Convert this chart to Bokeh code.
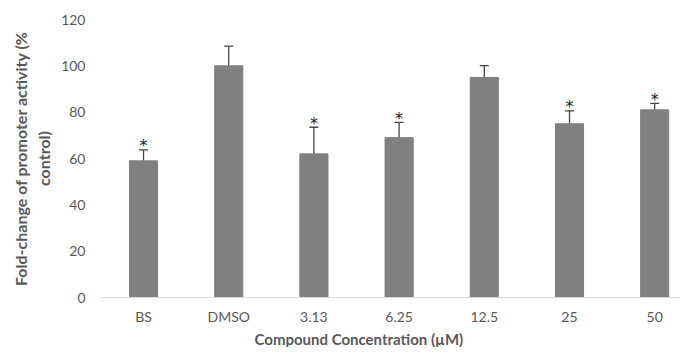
from bokeh.plotting import figure
from bokeh.models import ColumnDataSource, Whisker, TeeHead, FixedTicker, Title
from bokeh.core.properties import value
from bokeh.embed import file_html
from bokeh.resources import INLINE

categories = ["BS", "DMSO", "3.13", "6.25", "12.5", "25", "50"]
means = [59, 100, 62, 69, 95, 75, 81]
errors = [4.7, 8.5, 11.5, 6.6, 5.1, 5.6, 2.8]
significant = [True, False, True, True, False, True, True]
y_ticks = [0, 20, 40, 60, 80, 100, 120]

TXT = "#595959"
FONT = "Lato"

xs = list(range(len(categories)))
upper = [m + e for m, e in zip(means, errors)]
lower = [m - e for m, e in zip(means, errors)]
src = ColumnDataSource(dict(x=xs, mean=means, upper=upper, lower=lower))

star_x = [x for x, s in zip(xs, significant) if s]
star_y = [u + 1.7 for u, s in zip(upper, significant) if s]
star_src = ColumnDataSource(dict(x=star_x, y=star_y, t=["*"] * len(star_x)))

p = figure(width=680, height=347, x_range=(-0.505, 6.303), y_range=(0, 120),
           output_backend="svg", toolbar_location=None,
           min_border_left=100, min_border_right=0, min_border_top=19, min_border_bottom=49)
p.outline_line_color = None
p.xgrid.grid_line_color = None
p.ygrid.grid_line_color = None

p.vbar(x="x", top="mean", width=0.33, color="#808080", source=src)

w = Whisker(base="x", upper="upper", lower="lower", source=src,
            line_color="#454545", line_width=1.3,
            upper_head=TeeHead(size=9, line_color="#454545", line_width=1.3),
            lower_head=TeeHead(size=9, line_color="#454545", line_width=1.3))
p.add_layout(w)

p.text(x="x", y="y", text="t", source=star_src, text_align="center",
       text_baseline="alphabetic", text_font_size="16px", text_color="#1a1a1a",
       text_font=value("DejaVu Sans"))

xa = p.xaxis[0]
xa.ticker = FixedTicker(ticks=xs)
xa.major_label_overrides = {i: c for i, c in enumerate(categories)}
xa.axis_line_color = "#d9d9d9"
xa.axis_line_width = 1
xa.major_tick_line_color = None
xa.minor_tick_line_color = None
xa.major_tick_out = 0
xa.major_tick_in = 0
xa.major_label_standoff = 10
xa.major_label_text_font = FONT
xa.major_label_text_font_size = "14px"
xa.major_label_text_color = TXT

ya = p.yaxis[0]
ya.ticker = FixedTicker(ticks=y_ticks)
ya.axis_line_color = None
ya.major_tick_line_color = None
ya.minor_tick_line_color = None
ya.major_tick_out = 0
ya.major_tick_in = 0
ya.major_label_standoff = 15
ya.major_label_text_font = FONT
ya.major_label_text_font_size = "14px"
ya.major_label_text_color = TXT
ya.axis_label = "Fold-change of promoter activity (%\ncontrol)"
ya.axis_label_standoff = 5
ya.axis_label_text_font = FONT
ya.axis_label_text_font_size = "16px"
ya.axis_label_text_font_style = "bold"
ya.axis_label_text_color = TXT
ya.axis_label_text_align = "center"

xt = Title(text="Compound Concentration (\u00b5M)", align="left", offset=154,
           standoff=0, text_font=FONT, text_font_size="15px", text_font_style="bold",
           text_color=TXT)
p.add_layout(xt, "below")

open("out.html", "w").write(file_html(p, INLINE))
